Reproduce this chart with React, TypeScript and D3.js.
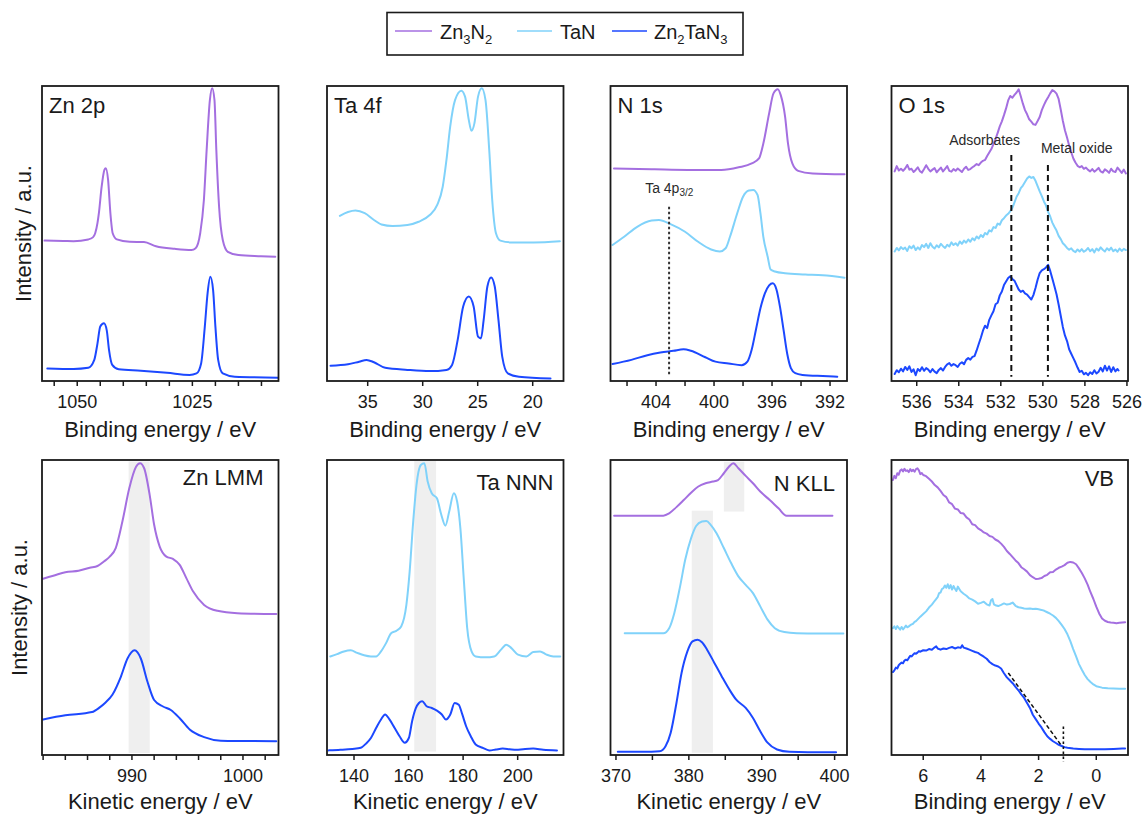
import React from 'react';
import * as d3 from 'd3';

type Pt = [number, number];

// ---------- colours ----------
const C_ZN3N2 = '#a46fe0';
const C_TAN = '#80d2fa';
const C_ZN2TAN3 = '#1c48ff';

// ---------- legend ----------
const legendItems = [
  { parts: [['Zn', 0], ['3', 1], ['N', 0], ['2', 1]], color: C_ZN3N2 },
  { parts: [['TaN', 0]], color: C_TAN },
  { parts: [['Zn', 0], ['2', 1], ['TaN', 0], ['3', 1]], color: C_ZN2TAN3 },
];

// ---------- Zn 2p ----------
const zn2pTicks = [1055, 1050, 1045, 1040, 1035, 1030, 1025, 1020, 1015, 1010];
const zn2pLabels = [1050, 1025];
const zn2p_Zn3N2: Pt[] = [[1057.1,47.5],[1053,47.4],[1050.8,47.3],[1047.6,47.9],[1046.6,48.6],[1046.1,50.0],[1045.6,53.5],[1045.3,56.8],[1044.7,65.8],[1044.1,71.5],[1043.8,72.1],[1043.3,68.1],[1042.8,56.8],[1042.3,50.0],[1041.4,47.9],[1038.6,47.1],[1035.5,47.0],[1032.9,45.6],[1028.8,44.7],[1025.2,44.3],[1024.3,44.9],[1023.3,50.0],[1022.5,61.3],[1021.9,78.3],[1021.2,95.2],[1020.7,99.2],[1020.2,95.2],[1019.8,78.3],[1019.2,59.0],[1018.4,47.7],[1017.3,43.7],[1015.0,42.6],[1010.1,42.2],[1007.0,42.0]];
const zn2p_Zn2TaN3: Pt[] = [[1056.5,4.1],[1050.8,3.9],[1047.6,4.3],[1046.3,7.0],[1045.6,12.6],[1045.0,18.3],[1044.2,19.4],[1043.6,17.1],[1043.1,10.4],[1042.4,5.3],[1041.0,3.8],[1036.2,3.3],[1030.5,2.6],[1025.6,1.9],[1024.1,2.4],[1023.1,5.8],[1022.3,18.3],[1021.7,29.6],[1021.1,35.2],[1020.5,30.7],[1020.0,18.3],[1019.4,7.0],[1018.4,2.4],[1015.8,1.3],[1006.4,0.95]];

// ---------- Ta 4f ----------
const ta4fTicks = [35, 30, 25, 20];
const ta4fLabels = [35, 30, 25, 20];
const ta4f_TaN: Pt[] = [[37.53,55.9],[36.79,57.2],[36.11,57.7],[35.27,56.8],[34.43,54.5],[33.75,53.0],[32.74,52.5],[31.39,52.8],[30.37,53.9],[29.36,56.2],[28.68,59.6],[28.18,65.8],[27.84,74.9],[27.5,86.2],[27.06,95.2],[26.49,98.4],[26.15,96.4],[25.81,88.5],[25.57,84.8],[25.30,87.3],[24.97,96.4],[24.63,99.2],[24.29,95.2],[23.95,78.2],[23.68,61.3],[23.34,50.0],[22.94,47.5],[21.93,46.9],[19.9,46.9],[17.53,47.3]];
const ta4f_Zn2TaN3: Pt[] = [[38.38,5.0],[36.79,5.5],[35.78,6.4],[35.1,7.0],[34.43,6.2],[33.41,4.3],[31.39,3.6],[29.36,3.2],[27.84,3.6],[27.33,5.3],[26.82,13.8],[26.32,25.1],[25.81,28.5],[25.37,25.1],[24.97,14.9],[24.70,14.3],[24.46,20.5],[24.12,31.9],[23.78,35.0],[23.45,31.9],[23.11,20.5],[22.77,8.1],[22.26,2.4],[21.25,1.3],[18.38,0.7]];

// ---------- N 1s ----------
const n1sTicks = [406, 404, 402, 400, 398, 396, 394, 392];
const n1sLabels = [404, 400, 396, 392];
const n1s_Zn3N2: Pt[] = [[406.9,72.0],[404.1,71.7],[401.8,71.5],[399.5,71.5],[398.3,72.4],[397.4,73.7],[396.9,75.4],[396.6,80.5],[396.2,90.7],[395.9,97.5],[395.6,98.9],[395.4,96.9],[395.1,89.6],[394.9,80.5],[394.6,73.7],[394.2,71.2],[393.2,70.3],[391.0,70.0]];
const n1s_TaN: Pt[] = [[407.0,46.0],[406.2,48.8],[405.3,52.2],[404.3,54.3],[403.8,54.5],[403.0,53.1],[402.0,50.5],[401.1,47.1],[400.2,44.5],[399.6,43.8],[399.2,44.9],[398.9,48.8],[398.4,56.8],[398.0,62.4],[397.6,64.5],[397.3,64.7],[397.0,63.0],[396.8,56.8],[396.6,48.8],[396.3,42.0],[396.1,37.7],[395.8,37.0],[395.1,36.4],[393.7,36.0],[392.5,35.7],[391.0,34.9]];
const n1s_Zn2TaN3: Pt[] = [[407.0,5.6],[405.7,7.0],[404.6,8.6],[403.7,9.5],[402.8,10.1],[402.1,10.6],[401.6,10.1],[400.6,7.9],[399.9,6.4],[399.0,5.8],[398.1,5.2],[397.7,6.4],[397.4,10.5],[397.1,17.5],[396.8,24.5],[396.5,29.5],[396.2,32.3],[395.95,33.0],[395.7,31.0],[395.45,25.0],[395.2,17.0],[394.95,9.0],[394.7,4.2],[394.4,2.5],[393.9,1.9],[392.5,1.5],[391.5,1.3]];

// ---------- O 1s ----------
const o1sTicks = [536, 534, 532, 530, 528, 526];
const o1sLabels = [536, 534, 532, 530, 528, 526];
const o1s_Zn3N2: Pt[] = [[537.05,71.0],[536.95,72.8],[536.85,71.3],[536.75,71.9],[536.65,71.2],[536.55,72.0],[536.45,73.2],[536.35,71.6],[536.25,71.9],[536.15,70.8],[536.05,71.5],[535.95,72.4],[535.85,71.1],[535.75,70.6],[535.65,71.8],[535.55,73.1],[535.45,71.9],[535.35,71.0],[535.25,71.6],[535.15,72.1],[535.05,70.7],[534.95,71.5],[534.85,72.3],[534.75,71.0],[534.65,71.9],[534.55,72.8],[534.45,71.2],[534.35,70.9],[534.25,71.8],[534.15,71.2],[534.05,72.0],[533.95,71.4],[533.85,70.8],[533.75,71.9],[533.65,72.6],[533.55,71.5],[533.45,71.8],[533.35,72.4],[533.25,72.9],[533.15,73.5],[533.05,73.1],[532.95,74.0],[532.85,74.6],[532.75,74.9],[532.65,76.2],[532.55,77.4],[532.45,78.6],[532.35,80.3],[532.25,82.0],[532.15,84.1],[532.05,86.3],[531.95,88.0],[531.85,90.1],[531.75,92.4],[531.65,95.1],[531.55,96.6],[531.45,96.0],[531.35,97.0],[531.25,97.8],[531.15,98.9],[531.05,96.5],[530.95,94.0],[530.85,91.8],[530.75,90.4],[530.65,88.7],[530.55,87.9],[530.45,87.0],[530.35,86.8],[530.25,88.1],[530.15,89.5],[530.05,91.8],[529.95,93.5],[529.85,95.0],[529.75,96.2],[529.65,97.5],[529.55,98.6],[529.45,98.2],[529.35,97.4],[529.25,95.6],[529.15,92.0],[529.05,88.2],[528.95,85.0],[528.85,82.5],[528.75,79.8],[528.65,77.5],[528.55,75.4],[528.45,74.0],[528.35,72.9],[528.25,72.4],[528.15,72.8],[528.05,71.9],[527.95,72.3],[527.85,71.5],[527.75,71.0],[527.65,71.8],[527.55,70.9],[527.45,71.5],[527.35,72.2],[527.25,71.0],[527.15,70.6],[527.05,71.7],[526.95,71.2],[526.85,70.5],[526.75,71.9],[526.65,71.0],[526.55,70.8],[526.45,72.3],[526.35,71.4],[526.25,70.5],[526.15,71.6],[526.05,70.3]];
const o1s_TaN: Pt[] = [[537.05,43.8],[536.95,45.0],[536.85,44.2],[536.75,45.3],[536.65,44.6],[536.55,45.1],[536.45,44.0],[536.35,45.6],[536.25,44.9],[536.15,45.8],[536.05,44.3],[535.95,45.2],[535.85,44.5],[535.75,46.0],[535.65,45.3],[535.55,46.4],[535.45,45.0],[535.35,46.6],[535.25,45.4],[535.15,44.8],[535.05,45.9],[534.95,45.2],[534.85,46.4],[534.75,45.6],[534.65,45.0],[534.55,46.1],[534.45,45.5],[534.35,46.9],[534.25,46.0],[534.15,46.6],[534.05,45.8],[533.95,47.2],[533.85,46.4],[533.75,47.5],[533.65,46.8],[533.55,47.9],[533.45,47.1],[533.35,48.3],[533.25,47.6],[533.15,48.9],[533.05,48.2],[532.95,49.4],[532.85,48.7],[532.75,50.1],[532.65,49.6],[532.55,51.0],[532.45,50.6],[532.35,52.1],[532.25,51.8],[532.15,53.3],[532.05,52.9],[531.95,54.4],[531.85,55.1],[531.75,56.0],[531.65,56.6],[531.55,57.5],[531.45,58.6],[531.35,60.5],[531.25,62.4],[531.15,63.6],[531.05,65.3],[530.95,66.2],[530.85,67.4],[530.75,68.6],[530.65,69.3],[530.55,68.8],[530.45,69.1],[530.35,67.8],[530.25,66.0],[530.15,64.2],[530.05,62.6],[529.95,60.8],[529.85,59.4],[529.75,57.2],[529.65,55.7],[529.55,53.6],[529.45,52.2],[529.35,50.9],[529.25,49.1],[529.15,48.0],[529.05,46.6],[528.95,45.9],[528.85,45.0],[528.75,44.4],[528.65,44.9],[528.55,44.0],[528.45,43.6],[528.35,44.5],[528.25,43.8],[528.15,44.6],[528.05,43.7],[527.95,44.2],[527.85,45.0],[527.75,43.9],[527.65,44.6],[527.55,43.5],[527.45,44.8],[527.35,44.1],[527.25,45.2],[527.15,44.4],[527.05,43.8],[526.95,44.9],[526.85,44.2],[526.75,45.1],[526.65,43.9],[526.55,44.5],[526.45,43.7],[526.35,44.8],[526.25,44.0],[526.15,44.7],[526.05,44.3]];
const o1s_Zn2TaN3: Pt[] = [[537.05,2.2],[536.95,3.5],[536.85,2.8],[536.75,4.0],[536.65,3.1],[536.55,4.6],[536.45,3.6],[536.35,4.8],[536.25,2.9],[536.15,3.8],[536.05,1.8],[535.95,3.9],[535.85,3.2],[535.75,4.5],[535.65,3.3],[535.55,4.2],[535.45,3.7],[535.35,2.8],[535.25,3.9],[535.15,3.0],[535.05,2.5],[534.95,3.6],[534.85,4.2],[534.75,3.4],[534.65,4.6],[534.55,5.5],[534.45,5.9],[534.35,5.0],[534.25,5.6],[534.15,5.2],[534.05,4.6],[533.95,5.7],[533.85,6.2],[533.75,5.5],[533.65,7.0],[533.55,7.6],[533.45,7.1],[533.35,8.0],[533.25,8.3],[533.15,10.2],[533.05,12.4],[532.95,14.5],[532.85,16.9],[532.75,18.6],[532.65,17.8],[532.55,20.6],[532.45,22.1],[532.35,23.5],[532.25,25.9],[532.15,26.4],[532.05,28.9],[531.95,30.2],[531.85,32.4],[531.75,33.6],[531.65,34.8],[531.55,35.4],[531.45,34.5],[531.35,33.9],[531.25,32.4],[531.15,30.9],[531.05,30.1],[530.95,30.5],[530.85,29.6],[530.75,29.2],[530.65,28.3],[530.55,27.5],[530.45,29.0],[530.35,31.4],[530.25,34.2],[530.15,36.5],[530.05,37.4],[529.95,37.8],[529.85,38.4],[529.75,39.3],[529.65,37.2],[529.55,34.6],[529.45,32.0],[529.35,29.3],[529.25,25.8],[529.15,22.0],[529.05,18.2],[528.95,15.3],[528.85,13.4],[528.75,10.6],[528.65,9.1],[528.55,7.6],[528.45,6.1],[528.35,4.4],[528.25,2.9],[528.15,3.3],[528.05,2.1],[527.95,2.6],[527.85,1.8],[527.75,2.8],[527.65,2.2],[527.55,3.5],[527.45,2.4],[527.35,3.0],[527.25,4.3],[527.15,3.1],[527.05,5.0],[526.95,3.4],[526.85,4.8],[526.75,2.9],[526.65,4.5],[526.55,3.1],[526.45,3.9],[526.40,3.4]];

// ---------- Zn LMM ----------
const znlmmTicks = [982, 984, 986, 988, 990, 992, 994, 996, 998, 1000, 1002];
const znlmmLabels = [990, 1000];
const znlmm_Zn3N2: Pt[] = [[982.0,59.7],[983.0,60.8],[984.0,61.9],[985.2,62.4],[986.2,63.4],[986.9,64.0],[987.5,65.6],[988.0,67.2],[988.54,70.1],[989.14,79.1],[989.76,90.4],[990.37,97.7],[990.73,98.9],[991.1,97.2],[991.6,88.1],[992.0,78.0],[992.5,70.6],[993.1,67.2],[993.7,66.4],[994.3,64.4],[994.9,59.9],[995.5,55.4],[996.5,50.8],[997.7,48.8],[999.5,48.0],[1003.0,47.7]];
const znlmm_Zn2TaN3: Pt[] = [[982.0,11.9],[984.0,13.3],[986.4,14.4],[987.1,16.0],[987.6,17.6],[988.24,20.3],[989.0,26.4],[989.6,32.6],[990.24,35.4],[990.8,32.6],[991.4,24.7],[992.0,18.5],[992.8,16.3],[993.5,15.1],[994.3,12.3],[995.2,8.5],[996.5,5.9],[998.0,4.7],[1003.0,4.5]];

// ---------- Ta NNN ----------
const tannnTicks = [140, 160, 180, 200];
const tannnLabels = [140, 160, 180, 200];
const tannn_TaN: Pt[] = [[131.3,33.3],[133.8,34.1],[136.3,35.0],[138.8,35.4],[141.2,34.5],[143.7,33.7],[146.2,33.3],[148.1,33.3],[149.9,35.0],[151.8,37.9],[153.6,41.2],[155.5,42.0],[157.3,43.5],[159.2,50.8],[160.4,62.1],[161.7,79.1],[162.9,91.5],[164.5,98.3],[165.8,98.9],[167.0,92.7],[168.5,88.7],[170.4,87.0],[172.0,81.4],[173.5,77.7],[174.9,82.5],[176.6,88.7],[177.8,85.9],[179.0,76.8],[180.3,58.8],[181.5,42.9],[183.1,35.0],[184.6,33.3],[188.3,33.0],[191.4,33.3],[193.9,35.6],[195.8,37.3],[197.6,36.2],[200.1,33.9],[203.2,33.3],[205.7,34.8],[208.2,35.0],[210.6,33.9],[213.1,33.3],[215.6,33.3]];
const tannn_Zn2TaN3: Pt[] = [[130.7,1.4],[135.0,1.6],[139.4,1.9],[142.5,2.3],[144.3,3.6],[146.2,5.6],[148.1,9.0],[149.9,11.9],[151.4,13.6],[153.0,11.9],[154.9,9.0],[156.7,6.2],[158.6,4.0],[160.1,5.6],[161.3,11.3],[162.7,15.8],[163.8,17.5],[165.0,18.1],[166.6,16.4],[168.5,15.8],[170.4,14.9],[172.2,13.6],[173.7,11.9],[175.3,13.6],[176.9,17.5],[178.4,16.9],[179.7,13.6],[181.1,9.6],[182.8,6.2],[184.6,3.4],[187.1,2.3],[189.6,1.4],[192.0,1.7],[194.5,2.0],[197.0,1.8],[199.5,1.6],[202.0,1.8],[205.7,2.0],[209.4,1.6],[214.4,1.4]];

// ---------- N KLL ----------
const nkllTicks = [370, 375, 380, 385, 390, 395, 400];
const nkllLabels = [370, 380, 390, 400];
const nkll_Zn3N2: Pt[] = [[369.75,81.1],[372.8,81.1],[376.5,81.1],[377.3,81.9],[378.3,84.0],[379.3,86.4],[380.3,88.9],[381.3,91.0],[382.3,92.1],[383.3,92.7],[384.0,93.2],[384.8,95.5],[385.5,97.7],[386.1,98.9],[386.8,97.2],[387.8,94.6],[388.8,92.1],[389.8,89.3],[391.1,86.4],[392.3,83.6],[393.4,81.1],[396.3,81.1],[399.7,81.1]];
const nkll_TaN: Pt[] = [[371.2,41.2],[373.8,41.2],[376.5,41.2],[377.3,42.9],[378.0,48.0],[378.8,57.1],[379.5,66.1],[380.3,73.4],[381.0,77.6],[381.8,79.1],[382.4,79.3],[383.0,78.0],[383.8,75.1],[384.8,70.1],[385.8,65.0],[386.8,60.5],[387.8,57.6],[388.8,54.8],[389.8,50.3],[390.8,45.8],[391.8,42.9],[393.1,41.6],[394.8,41.2],[397.8,41.1],[401.2,41.1]];
const nkll_Zn2TaN3: Pt[] = [[370.25,0.9],[373.8,0.9],[376.0,1.1],[376.8,2.8],[377.5,7.3],[378.3,17.5],[379.0,27.7],[379.8,35.0],[380.5,38.4],[381.2,39.0],[381.8,38.1],[382.5,35.6],[383.5,31.1],[384.5,26.6],[385.5,22.3],[386.5,18.6],[387.8,15.8],[388.8,12.4],[389.8,7.9],[390.8,4.0],[392.1,1.7],[393.8,0.9],[396.3,0.8],[400.2,0.8]];

// ---------- VB ----------
const vbTicks = [6, 4, 2, 0];
const vbLabels = [6, 4, 2, 0];
const vb_Zn3N2: Pt[] = [[7.05,93.2],[7.0,94.6],[6.95,93.8],[6.9,95.5],[6.85,95.0],[6.8,96.4],[6.75,96.8],[6.7,96.1],[6.65,97.0],[6.6,96.3],[6.55,96.5],[6.5,95.9],[6.45,96.9],[6.4,96.2],[6.35,96.7],[6.3,96.0],[6.25,96.9],[6.2,97.2],[6.15,96.5],[6.1,95.2],[6.05,95.6],[6.0,94.9],[5.9,94.5],[5.8,93.6],[5.7,92.7],[5.6,91.5],[5.5,90.7],[5.4,89.5],[5.3,88.1],[5.2,87.4],[5.1,85.6],[5.0,85.0],[4.9,83.5],[4.8,83.2],[4.7,82.0],[4.6,81.8],[4.5,80.5],[4.4,79.8],[4.3,78.2],[4.2,77.9],[4.1,76.8],[4.0,76.2],[3.9,75.4],[3.8,75.0],[3.7,74.2],[3.6,73.9],[3.5,73.0],[3.4,72.5],[3.3,71.6],[3.2,70.5],[3.1,69.1],[3.0,68.1],[2.9,67.0],[2.8,65.9],[2.7,65.0],[2.6,63.6],[2.5,62.9],[2.4,62.1],[2.3,60.9],[2.2,60.2],[2.1,59.6],[2.0,59.7],[1.9,59.9],[1.8,60.6],[1.7,61.0],[1.6,61.9],[1.5,62.0],[1.4,62.8],[1.3,63.4],[1.2,63.8],[1.1,64.3],[1.0,65.1],[0.9,65.4],[0.8,65.2],[0.7,64.6],[0.6,63.2],[0.5,61.6],[0.4,59.8],[0.3,57.7],[0.2,55.1],[0.1,52.8],[0.0,50.2],[-0.1,47.9],[-0.2,46.2],[-0.3,45.4],[-0.4,45.0],[-0.5,44.8],[-0.6,44.7],[-0.7,44.6],[-0.8,44.7],[-0.9,44.8],[-1.0,44.9]];
const vb_TaN: Pt[] = [[7.05,42.9],[7.0,43.5],[6.95,42.6],[6.9,43.6],[6.85,43.0],[6.8,42.4],[6.75,43.3],[6.7,42.5],[6.65,43.1],[6.6,43.8],[6.55,43.2],[6.5,43.5],[6.45,43.9],[6.4,44.2],[6.35,44.4],[6.3,45.0],[6.25,45.3],[6.2,45.8],[6.1,46.8],[6.0,47.7],[5.9,48.6],[5.8,49.9],[5.7,50.9],[5.6,52.2],[5.5,53.4],[5.45,54.8],[5.4,55.0],[5.35,56.2],[5.3,56.5],[5.25,57.4],[5.2,56.6],[5.15,57.8],[5.1,56.4],[5.05,57.5],[5.0,56.0],[4.95,57.2],[4.9,56.3],[4.85,55.5],[4.8,57.0],[4.75,56.2],[4.7,55.4],[4.6,54.6],[4.5,53.9],[4.4,53.0],[4.3,52.6],[4.2,52.0],[4.1,51.2],[4.0,51.5],[3.9,51.9],[3.8,51.0],[3.7,50.6],[3.65,52.4],[3.6,52.8],[3.55,51.0],[3.5,50.7],[3.4,50.4],[3.3,50.8],[3.2,51.3],[3.1,50.9],[3.0,51.1],[2.9,51.6],[2.8,50.5],[2.7,50.0],[2.6,49.8],[2.5,49.6],[2.4,49.5],[2.3,49.6],[2.2,49.4],[2.1,49.5],[2.0,49.3],[1.9,49.1],[1.8,48.8],[1.7,48.3],[1.6,47.8],[1.5,47.2],[1.4,46.4],[1.3,45.3],[1.2,44.0],[1.1,42.6],[1.0,40.8],[0.9,38.5],[0.8,35.8],[0.7,33.3],[0.6,30.7],[0.5,28.8],[0.4,27.0],[0.3,25.6],[0.2,24.6],[0.1,23.8],[0.0,23.2],[-0.2,22.7],[-0.4,22.5],[-0.6,22.4],[-0.8,22.3],[-1.0,22.3]];
const vb_Zn2TaN3: Pt[] = [[7.05,28.0],[7.0,28.6],[6.95,29.5],[6.9,29.2],[6.85,30.3],[6.8,30.8],[6.75,31.2],[6.7,31.0],[6.65,31.9],[6.6,32.2],[6.55,32.0],[6.5,32.8],[6.45,33.5],[6.4,33.3],[6.35,33.9],[6.3,34.4],[6.25,34.2],[6.2,34.6],[6.15,35.1],[6.1,34.9],[6.0,35.4],[5.9,35.3],[5.8,35.8],[5.7,35.6],[5.6,36.4],[5.55,36.7],[5.5,36.0],[5.4,35.6],[5.3,36.0],[5.2,35.8],[5.1,36.2],[5.0,36.5],[4.9,36.0],[4.8,36.4],[4.7,36.2],[4.65,37.1],[4.6,36.3],[4.5,36.0],[4.4,35.6],[4.3,35.2],[4.2,34.8],[4.1,34.5],[4.0,33.8],[3.9,33.2],[3.8,32.5],[3.7,31.4],[3.6,30.7],[3.5,30.2],[3.4,29.9],[3.3,29.2],[3.2,27.6],[3.1,26.2],[3.0,25.2],[2.9,24.2],[2.8,23.0],[2.7,21.8],[2.6,20.4],[2.5,19.2],[2.4,17.5],[2.3,15.8],[2.2,13.5],[2.1,12.0],[2.0,10.5],[1.9,9.2],[1.8,7.6],[1.7,6.2],[1.6,5.3],[1.5,4.5],[1.4,3.9],[1.3,3.3],[1.2,2.9],[1.1,2.5],[1.0,2.3],[0.8,2.0],[0.6,1.9],[0.4,1.8],[0.2,1.8],[0.0,1.8],[-0.3,1.8],[-0.6,1.9],[-0.9,2.0],[-1.0,2.0]];
const vbFit: Pt[] = [[3.05, 27.7], [1.19, 2.8]];
const vbOnset: Pt[] = [[1.14, 9.5], [1.14, -2.5]];

// ---------- annotation values ----------
const ta4pLine: Pt[] = [[403.1, 59.0], [403.1, 1.9]];
const adsorbatesLine: Pt[] = [[531.5, 76.6], [531.5, 1.3]];
const metalOxideLine: Pt[] = [[529.76, 73.2], [529.76, 1.3]];

// ---------- layout ----------
const W = 1143, H = 817;
const COL_X = [42, 327, 610.5, 891.5];
const PW = 236.5;
const ROW_Y = [86, 460];
const PH = 295;
const FONT = "'Liberation Sans', Arial, Helvetica, sans-serif";
const INK = '#1a1a1a';

interface Series { data: Pt[]; color: string; smooth: boolean }
interface Band { x0: number; x1: number; y0: number; y1: number }
interface VLine { pts: Pt[]; dash: string; width: number; color: string }
interface Note { x: number; y: number; text: string; sub?: string; anchor: 'start' | 'middle' | 'end' }
interface PanelDef {
  col: number; row: number; domain: [number, number];
  ticks: number[]; labels: number[]; xTitle: string;
  name: string; nameAnchor: 'start' | 'end'; nameBaseline: number;
  series: Series[]; bands?: Band[]; lines?: VLine[]; notes?: Note[];
}

const panels: PanelDef[] = [
  { col: 0, row: 0, domain: [1057.65, 1006.3], ticks: zn2pTicks, labels: zn2pLabels, xTitle: 'Binding energy / eV',
    name: 'Zn 2p', nameAnchor: 'start', nameBaseline: 27,
    series: [{ data: zn2p_Zn3N2, color: C_ZN3N2, smooth: true }, { data: zn2p_Zn2TaN3, color: C_ZN2TAN3, smooth: true }] },
  { col: 1, row: 0, domain: [38.7, 17.2], ticks: ta4fTicks, labels: ta4fLabels, xTitle: 'Binding energy / eV',
    name: 'Ta 4f', nameAnchor: 'start', nameBaseline: 27,
    series: [{ data: ta4f_TaN, color: C_TAN, smooth: true }, { data: ta4f_Zn2TaN3, color: C_ZN2TAN3, smooth: true }] },
  { col: 2, row: 0, domain: [407.14, 390.83], ticks: n1sTicks, labels: n1sLabels, xTitle: 'Binding energy / eV',
    name: 'N 1s', nameAnchor: 'start', nameBaseline: 27,
    series: [{ data: n1s_Zn3N2, color: C_ZN3N2, smooth: true }, { data: n1s_TaN, color: C_TAN, smooth: true }, { data: n1s_Zn2TaN3, color: C_ZN2TAN3, smooth: true }],
    lines: [{ pts: ta4pLine, dash: '2.5,2.5', width: 2, color: '#333' }],
    notes: [{ x: 404.75, y: 63.8, text: 'Ta 4p', sub: '3/2', anchor: 'start' }] },
  { col: 3, row: 0, domain: [537.2, 525.95], ticks: o1sTicks, labels: o1sLabels, xTitle: 'Binding energy / eV',
    name: 'O 1s', nameAnchor: 'start', nameBaseline: 27,
    series: [{ data: o1s_Zn3N2, color: C_ZN3N2, smooth: false }, { data: o1s_TaN, color: C_TAN, smooth: false }, { data: o1s_Zn2TaN3, color: C_ZN2TAN3, smooth: false }],
    lines: [{ pts: adsorbatesLine, dash: '6,4', width: 2, color: '#111' }, { pts: metalOxideLine, dash: '6,4', width: 2, color: '#111' }],
    notes: [{ x: 532.77, y: 79.8, text: 'Adsorbates', anchor: 'middle' }, { x: 528.39, y: 77.2, text: 'Metal oxide', anchor: 'middle' }] },
  { col: 0, row: 1, domain: [981.9, 1003.2], ticks: znlmmTicks, labels: znlmmLabels, xTitle: 'Kinetic energy / eV',
    name: 'Zn LMM', nameAnchor: 'end', nameBaseline: 25,
    bands: [{ x0: 989.7, x1: 991.6, y0: 0.5, y1: 99.5 }],
    series: [{ data: znlmm_Zn3N2, color: C_ZN3N2, smooth: true }, { data: znlmm_Zn2TaN3, color: C_ZN2TAN3, smooth: true }] },
  { col: 1, row: 1, domain: [130.1, 216.8], ticks: tannnTicks, labels: tannnLabels, xTitle: 'Kinetic energy / eV',
    name: 'Ta NNN', nameAnchor: 'end', nameBaseline: 30,
    bands: [{ x0: 162.1, x1: 170.1, y0: 1, y1: 99.7 }],
    series: [{ data: tannn_TaN, color: C_TAN, smooth: true }, { data: tannn_Zn2TaN3, color: C_ZN2TAN3, smooth: true }] },
  { col: 2, row: 1, domain: [369.25, 401.7], ticks: nkllTicks, labels: nkllLabels, xTitle: 'Kinetic energy / eV',
    name: 'N KLL', nameAnchor: 'end', nameBaseline: 30.5,
    bands: [{ x0: 384.8, x1: 387.6, y0: 82.5, y1: 99.4 }, { x0: 380.4, x1: 383.3, y0: 0.6, y1: 82.8 }],
    series: [{ data: nkll_Zn3N2, color: C_ZN3N2, smooth: true }, { data: nkll_TaN, color: C_TAN, smooth: true }, { data: nkll_Zn2TaN3, color: C_ZN2TAN3, smooth: true }] },
  { col: 3, row: 1, domain: [7.1, -1.1], ticks: vbTicks, labels: vbLabels, xTitle: 'Binding energy / eV',
    name: 'VB', nameAnchor: 'end', nameBaseline: 26,
    series: [{ data: vb_Zn3N2, color: C_ZN3N2, smooth: false }, { data: vb_TaN, color: C_TAN, smooth: false }, { data: vb_Zn2TaN3, color: C_ZN2TAN3, smooth: false }],
    lines: [{ pts: vbFit, dash: '4,2.5', width: 1.6, color: '#111' }, { pts: vbOnset, dash: '2.5,2.5', width: 1.6, color: '#111' }] },
];

const nameRightPad = [15, 10, 12, 14];

function Panel({ p }: { p: PanelDef }) {
  const x0 = COL_X[p.col];
  const y0 = ROW_Y[p.row];
  const x = d3.scaleLinear().domain(p.domain).range([x0, x0 + PW]);
  const y = d3.scaleLinear().domain([0, 100]).range([y0 + PH - 0.5, y0]);
  const mk = (smooth: boolean) =>
    d3.line<Pt>().x(d => x(d[0])).y(d => y(d[1])).curve(smooth ? d3.curveMonotoneX : d3.curveLinear);
  const yb = y0 + PH;
  const titleOff = p.row === 0 ? 56 : 54;
  const nameX = p.nameAnchor === 'start' ? x0 + 7 : x0 + PW - nameRightPad[p.col];
  return (
    <g>
      {(p.bands || []).map((b, i) => (
        <rect key={'b' + i} x={x(b.x0)} width={x(b.x1) - x(b.x0)} y={y(b.y1)} height={y(b.y0) - y(b.y1)} fill="#efefef" />
      ))}
      {p.series.map((s, i) => (
        <path key={'s' + i} d={mk(s.smooth)(s.data) || ''} fill="none" stroke={s.color} strokeWidth={2} strokeLinejoin="round" strokeLinecap="round" />
      ))}
      {(p.lines || []).map((l, i) => (
        <path key={'l' + i} d={d3.line<Pt>().x(d => x(d[0])).y(d => y(d[1]))(l.pts) || ''} fill="none" stroke={l.color} strokeWidth={l.width} strokeDasharray={l.dash} />
      ))}
      {(p.notes || []).map((n, i) => (
        <text key={'n' + i} x={x(n.x)} y={y(n.y)} textAnchor={n.anchor} fontFamily={FONT} fontSize={14} fill="#2a2a2a">
          {n.text}
          {n.sub ? <tspan fontSize={10} dy={3}>{n.sub}</tspan> : null}
        </text>
      ))}
      <rect x={x0} y={y0} width={PW} height={PH} fill="none" stroke={INK} strokeWidth={1.8} />
      {p.ticks.map(t => (
        <line key={'t' + t} x1={x(t)} x2={x(t)} y1={yb} y2={yb + 5} stroke={INK} strokeWidth={1.5} />
      ))}
      {p.labels.map(t => (
        <text key={'tl' + t} x={x(t)} y={yb + 27} textAnchor="middle" fontFamily={FONT} fontSize={18} fill={INK}>{t}</text>
      ))}
      <text x={x0 + PW / 2} y={yb + titleOff} textAnchor="middle" fontFamily={FONT} fontSize={22} fill={INK}>{p.xTitle}</text>
      <text x={nameX} y={y0 + p.nameBaseline} textAnchor={p.nameAnchor} fontFamily={FONT} fontSize={22} fill={INK}>{p.name}</text>
    </g>
  );
}

function Legend() {
  const lineX = [[395, 432], [517, 552], [612, 647]];
  const textX = [440, 560, 654];
  return (
    <g>
      <rect x={387} y={12.5} width={356} height={42.5} fill="#fff" stroke={INK} strokeWidth={1.6} />
      {legendItems.map((it, i) => (
        <g key={i}>
          <line x1={lineX[i][0]} x2={lineX[i][1]} y1={31} y2={31} stroke={it.color} strokeWidth={1.5} />
          <text x={textX[i]} y={38.5} fontFamily={FONT} fontSize={20} fill={INK}>
            {it.parts.map((pt, j) => {
              const sub = pt[1] === 1;
              const prevSub = j > 0 && it.parts[j - 1][1] === 1;
              const dy = sub ? (prevSub ? 0 : 5) : (prevSub ? -5 : 0);
              return <tspan key={j} fontSize={sub ? 13 : 20} dy={dy}>{pt[0] as string}</tspan>;
            })}
          </text>
        </g>
      ))}
    </g>
  );
}

export default function App() {
  return (
    <div style={{ position: 'absolute', left: 0, top: 0, width: W, height: H, background: '#fff' }}>
      <svg width={W} height={H} viewBox={`0 0 ${W} ${H}`} style={{ display: 'block' }}>
        <rect x={0} y={0} width={W} height={H} fill="#fff" />
        <Legend />
        {panels.map((p, i) => <Panel key={i} p={p} />)}
        <text transform={`translate(31,${ROW_Y[0] + PH / 2}) rotate(-90)`} textAnchor="middle" fontFamily={FONT} fontSize={22} fill={INK}>Intensity / a.u.</text>
        <text transform={`translate(27,${ROW_Y[1] + PH / 2}) rotate(-90)`} textAnchor="middle" fontFamily={FONT} fontSize={22} fill={INK}>Intensity / a.u.</text>
      </svg>
    </div>
  );
}
